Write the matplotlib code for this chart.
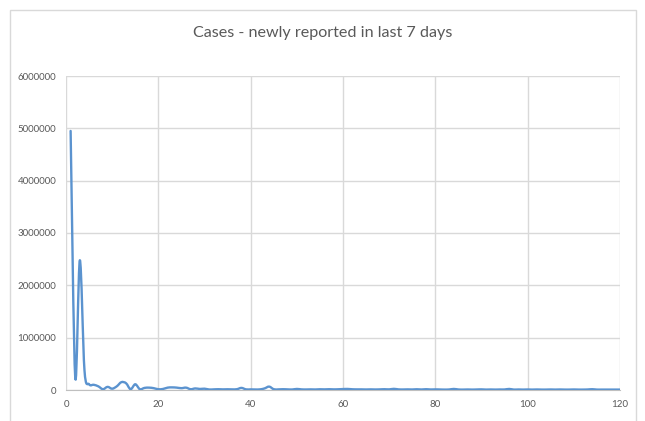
"""Weekly new cases line chart, Excel style smoothed line."""

import matplotlib

matplotlib.use("Agg")
import matplotlib.pyplot as plt
import numpy as np
from matplotlib.patches import PathPatch, Rectangle
from matplotlib.path import Path

TITLE = "Cases - newly reported in last 7 days"
Y_TICKS = [0, 1000000, 2000000, 3000000, 4000000, 5000000, 6000000]
X_TICKS = [0, 20, 40, 60, 80, 100, 120]

# day index 1..120, newly reported cases
days = list(range(1, 121))
cases = [
    4950000, 240000, 2480000, 380000, 110000, 100000, 70000, 15000, 60000, 25000,
    70000, 150000, 130000, 15000, 110000, 15000, 40000, 45000, 35000, 15000,
    20000, 45000, 50000, 45000, 35000, 45000, 15000, 30000, 20000, 25000,
    10000, 12000, 15000, 12000, 14000, 12000, 15000, 40000, 12000, 12000,
    10000, 12000, 30000, 65000, 15000, 12000, 15000, 12000, 10000, 20000,
    12000, 10000, 12000, 10000, 14000, 12000, 15000, 12000, 14000, 18000,
    20000, 14000, 12000, 12000, 10000, 12000, 10000, 12000, 15000, 12000,
    22000, 12000, 10000, 12000, 10000, 14000, 10000, 15000, 10000, 12000,
    10000, 8000, 10000, 20000, 10000, 8000, 10000, 8000, 10000, 12000,
    8000, 10000, 8000, 10000, 10000, 20000, 8000, 10000, 8000, 10000,
    8000, 10000, 8000, 8000, 10000, 8000, 10000, 8000, 8000, 10000,
    8000, 8000, 10000, 15000, 8000, 8000, 8000, 8000, 8000, 8000,
]

LINE_COLOR = "#5b93cf"
GRID_COLOR = "#d9d9d9"
TEXT_COLOR = "#595959"


def _smooth_path(x, y):
    # Excel-like smoothed line: cubic Bezier through each point
    pts = np.column_stack([x, y]).astype(float)
    n = len(pts)
    verts = [pts[0]]
    codes = [Path.MOVETO]
    for i in range(n - 1):
        p_prev = pts[i - 1] if i > 0 else pts[i]
        p_next2 = pts[i + 2] if i + 2 < n else pts[i + 1]
        c1 = pts[i] + (pts[i + 1] - p_prev) / 6.0
        c2 = pts[i + 1] - (p_next2 - pts[i]) / 6.0
        verts.extend([c1, c2, pts[i + 1]])
        codes.extend([Path.CURVE4] * 3)
    return Path(verts, codes)


fig = plt.figure(figsize=(6.45, 4.21), dpi=100)
fig.patch.set_facecolor("white")
fig.patches.append(
    Rectangle((10 / 645, -0.01), 626 / 645, 1 - 10 / 421 + 0.01, transform=fig.transFigure,
              fill=False, edgecolor="#d9d9d9", linewidth=1.0)
)

ax = fig.add_axes([66 / 645, 31 / 421, 554 / 645, 314 / 421])
ax.add_patch(PathPatch(_smooth_path(days, cases), facecolor="none",
                       edgecolor=LINE_COLOR, linewidth=1.7, capstyle="round",
                       joinstyle="round", zorder=3))
ax.set_xlim(0, 120)
ax.set_ylim(0, 6000000)
ax.set_xticks(X_TICKS)
ax.set_yticks(Y_TICKS)
ax.set_yticklabels([str(v) for v in Y_TICKS])
ax.grid(True, color=GRID_COLOR, linewidth=1.0)
ax.set_axisbelow(True)
for name, spine in ax.spines.items():
    spine.set_visible(name == "bottom")
ax.spines["bottom"].set_color("#bfbfbf")
ax.tick_params(length=0, labelsize=7, colors=TEXT_COLOR, pad=7)
for lab in ax.get_xticklabels() + ax.get_yticklabels():
    lab.set_family("Lato")

fig.text(323 / 645, 1 - 33 / 421, TITLE, ha="center", va="center",
         fontsize=11.6, color=TEXT_COLOR, family="Lato")

fig.savefig("out.png", dpi=100)
